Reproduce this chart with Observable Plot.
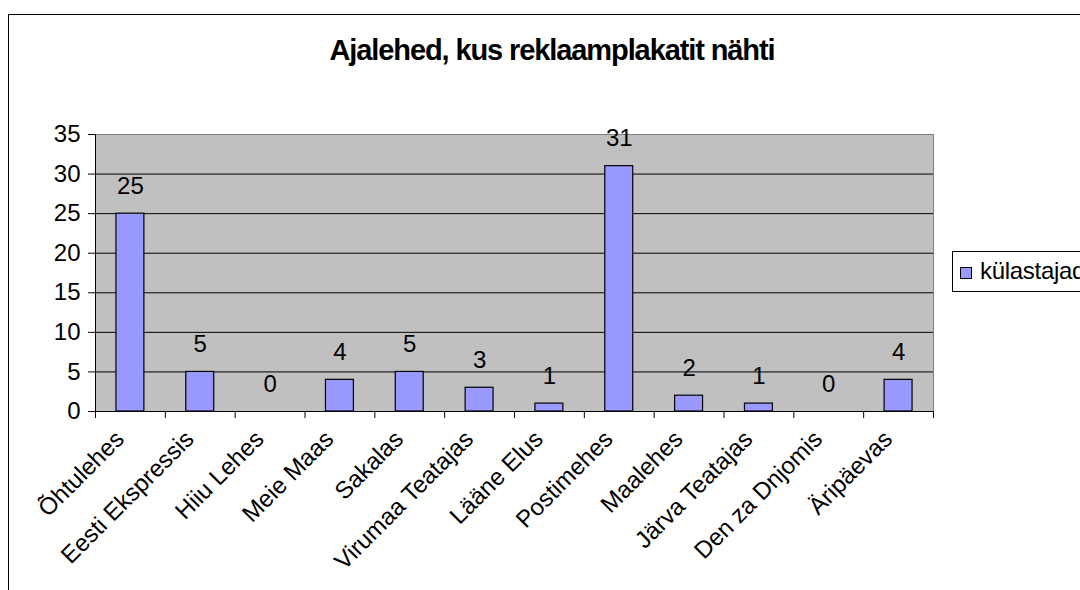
<!DOCTYPE html>
<html>
<head>
<meta charset="utf-8">
<script src="https://cdn.jsdelivr.net/npm/d3@7"></script>
<script src="https://cdn.jsdelivr.net/npm/@observablehq/plot@0.6"></script>
<style>
  html, body { margin: 0; padding: 0; background: #fff; overflow: hidden; }
  #wrap { position: relative; width: 1080px; height: 590px; font-family: "Liberation Sans", Arial, sans-serif; }
  #border { position: absolute; left: 8px; top: 14px; width: 1200px; height: 700px; border: 1.5px solid #000; box-sizing: border-box; }
  #title { position: absolute; left: 0; width: 1104px; top: 34px; text-align: center; font-weight: bold; font-size: 29px; letter-spacing: -1.1px; color: #000; line-height: 33px; }
  #legend { position: absolute; left: 952px; top: 251px; width: 200px; height: 41px; border: 1px solid #000; box-sizing: border-box; background: #fff; white-space: nowrap; }
  #legend .sw { position: absolute; left: 7px; top: 15px; width: 12px; height: 12px; background: #9999FF; border: 1px solid #000; box-sizing: border-box; }
  #legend .lb { position: absolute; left: 27px; top: 5px; font-size: 24px; line-height: 28px; letter-spacing: -0.3px; }
  #chart { position: absolute; left: 0; top: 0; }
  g[aria-label="category-labels"] text { letter-spacing: -1px; }
  g[aria-label="value-labels"] text { letter-spacing: -0.4px; }
</style>
</head>
<body>
<div id="wrap">
  <div id="border"></div>
  <div id="title"></div>
  <div id="chart"></div>
  <div id="legend"><span class="sw"></span><span class="lb"></span></div>
</div>
<script>
const titleText = "Ajalehed, kus reklaamplakatit nähti";
const seriesName = "külastajad";
const categories = ["Õhtulehes","Eesti Ekspressis","Hiiu Lehes","Meie Maas","Sakalas","Virumaa Teatajas","Lääne Elus","Postimehes","Maalehes","Järva Teatajas","Den za Dnjomis","Äripäevas"];
const values = [25, 5, 0, 4, 5, 3, 1, 31, 2, 1, 0, 4];
const yTicks = [0, 5, 10, 15, 20, 25, 30, 35];

document.getElementById("title").textContent = titleText;
document.querySelector("#legend .lb").textContent = seriesName;

const data = categories.map((c, i) => ({c, i, v: values[i]}));
const n = categories.length;
const font = "'Liberation Sans', Arial, sans-serif";

const chart = Plot.plot({
  width: 1080,
  height: 590,
  marginLeft: 95,
  marginRight: 147,
  marginTop: 134,
  marginBottom: 179,
  x: {type: "linear", domain: [0, n], axis: null},
  y: {domain: [0, 35], axis: null},
  style: {fontFamily: font, fontSize: "24px", background: "transparent", color: "#000", overflow: "visible"},
  marks: [
    Plot.frame({fill: "#C0C0C0", stroke: "#808080"}),
    Plot.ruleY(yTicks.filter(t => t > 0 && t < 35), {stroke: "#000", strokeOpacity: 1}),
    Plot.rectY(data, {x1: d => d.i + 0.3, x2: d => d.i + 0.7, y1: 0, y2: "v", fill: "#9999FF", stroke: "#000", strokeWidth: 1.2}),
    Plot.ruleY([0], {stroke: "#000"}),
    Plot.ruleX([0], {stroke: "#000"}),
    Plot.axisY({ticks: yTicks, tickSize: 7, tickPadding: 8, label: null, stroke: "#000", fontSize: 24, fontFamily: font}),
    Plot.axisX({ticks: d3.range(n + 1), tickSize: 7, tickFormat: () => "", label: null, stroke: "#000"}),
    Plot.text(data, {x: d => d.i + 0.5, y: "v", text: d => String(d.v), lineAnchor: "bottom", dy: -20, fontSize: 24, fill: "#000", ariaLabel: "value-labels"}),
    Plot.text(data, {x: d => d.i + 0.5, y: () => 0, text: "c", rotate: -45, textAnchor: "end", lineAnchor: "top", dx: -17, dy: 17, fontSize: 24, fill: "#000", ariaLabel: "category-labels"})
  ]
});
document.getElementById("chart").appendChild(chart);
</script>
</body>
</html>
